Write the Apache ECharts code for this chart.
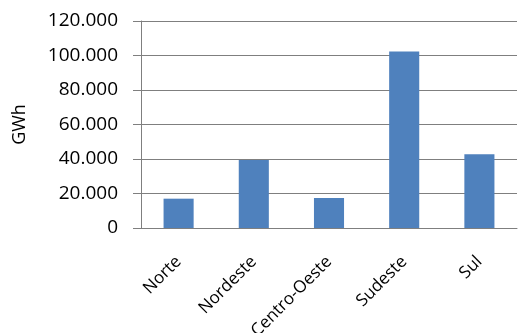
<!DOCTYPE html>
<html lang="pt">
  <head>
    <meta charset="UTF-8" />
    <title>GWh por região</title>
    <script src="https://cdn.jsdelivr.net/npm/echarts@6/dist/echarts.min.js"></script>
    <style>
      html, body { margin: 0; padding: 0; background: #fff; }
    </style>
  </head>
  <body>
    <div id="chart" style="width: 518px; height: 333px"></div>
    <script>
      // valores
      const regioes = ['Norte', 'Nordeste', 'Centro-Oeste', 'Sudeste', 'Sul'];
      const consumo = [17000, 39400, 17400, 102300, 42700];
      const eixoY = { min: 0, max: 120000, passo: 20000 };

      let myChart = echarts.init(document.getElementById('chart'));

      // 20000 -> "20.000"
      function fmt(v) {
        return String(v).replace(/\B(?=(\d{3})+(?!\d))/g, '.');
      }

      let option = {
        animation: false,
        textStyle: { fontFamily: 'Open Sans' },
        grid: {
          left: 141,
          right: 1,
          top: 21,
          bottom: 105,
          containLabel: false,
          outerBoundsMode: 'none',
        },
        xAxis: {
          type: 'category',
          data: regioes,
          axisLine: { lineStyle: { color: '#7f7f7f', width: 1 } },
          axisTick: { show: false },
          axisLabel: {
            rotate: 45,
            margin: 31,
            interval: 0,
            color: '#000',
            fontSize: 17,
          },
        },
        yAxis: {
          type: 'value',
          min: eixoY.min,
          max: eixoY.max,
          interval: eixoY.passo,
          name: 'GWh',
          nameLocation: 'middle',
          nameRotate: 90,
          nameGap: 112,
          nameTextStyle: { color: '#000', fontSize: 18 },
          axisLine: { show: true, lineStyle: { color: '#7f7f7f', width: 1 } },
          axisTick: { show: true, length: 8, lineStyle: { color: '#7f7f7f' } },
          axisLabel: {
            margin: 23,
            color: '#000',
            fontSize: 19,
            formatter: fmt,
          },
          splitLine: { lineStyle: { color: '#7f7f7f', width: 1 } },
        },
        series: [
          {
            type: 'bar',
            data: consumo,
            barWidth: '40%',
            itemStyle: { color: '#4F81BD' },
          },
        ],
      };

      myChart.setOption(option);
    </script>
  </body>
</html>
